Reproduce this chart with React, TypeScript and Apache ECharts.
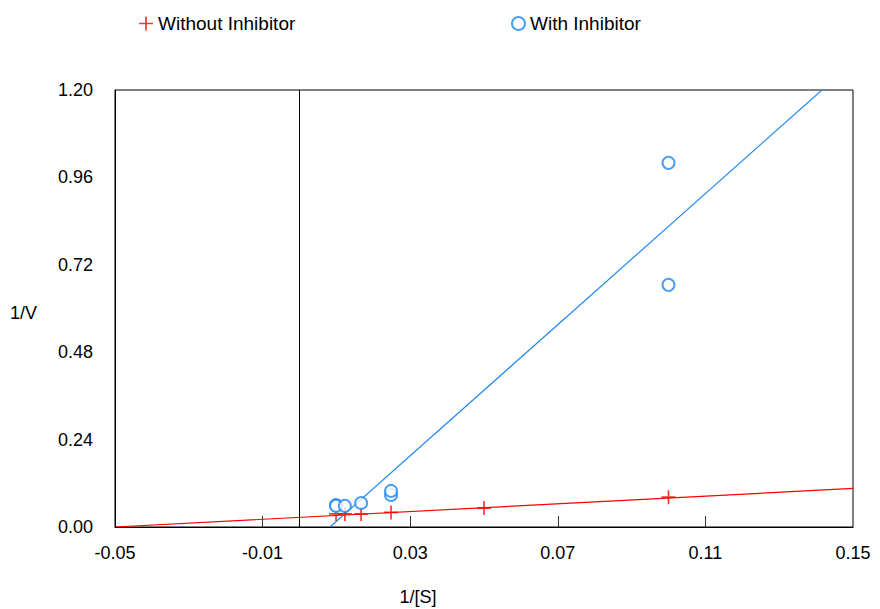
import React, { useEffect, useRef } from "react";
import * as echarts from "echarts";

const withoutInhibitor: [number, number][] = [
  [0.0099, 0.036],
  [0.0123, 0.036],
  [0.0167, 0.036],
  [0.0248, 0.040],
  [0.05, 0.052],
  [0.1, 0.082],
];
const withInhibitor: [number, number][] = [
  [0.0099, 0.06],
  [0.0099, 0.058],
  [0.0123, 0.058],
  [0.0167, 0.066],
  [0.0248, 0.088],
  [0.0248, 0.099],
  [0.1, 0.665],
  [0.1, 1.0],
];
const fitWithout: [number, number][] = [
  [-0.05, 0],
  [0.15, 0.106],
];
const fitWith: [number, number][] = [
  [0.00827, 0],
  [0.15, 1.2756],
];
const xLabelValues = [-0.05, -0.01, 0.03, 0.07, 0.11, 0.15];
const xTickValues = [-0.01, 0.03, 0.07, 0.11];

const RED = "#ff0000";
const BLUE = "#1e88f0";
const PLUS = "path://M4.4,0 H5.6 V4.4 H10 V5.6 H5.6 V10 H4.4 V5.6 H0 V4.4 H4.4 Z";
const FONT = "Liberation Sans";
const LS = 3.5;

export default function App() {
  const ref = useRef<HTMLDivElement>(null);
  useEffect(() => {
    const chart = echarts.init(ref.current!, null, { renderer: "svg" });
    chart.setOption({
      animation: false,
      backgroundColor: "#fff",
      textStyle: { fontFamily: FONT },
      legend: [
        {
          data: [{ name: "Without Inhibitor", icon: PLUS }],
          left: 134,
          top: 9,
          itemWidth: 14,
          itemHeight: 14,
          itemGap: 4,
          textStyle: { fontSize: 19, color: "#000", fontFamily: FONT, letterSpacing: LS },
        },
        {
          data: [{ name: "With Inhibitor", icon: "emptyCircle" }],
          left: 506,
          top: 9,
          itemWidth: 13,
          itemHeight: 13,
          itemGap: 2,
          textStyle: { fontSize: 19, color: "#000", fontFamily: FONT, letterSpacing: LS },
        },
      ],
      grid: {
        left: 115,
        right: 27,
        top: 90,
        bottom: 82,
        show: true,
        borderColor: "#000",
        borderWidth: 1,
      },
      xAxis: {
        type: "value",
        min: -0.05,
        max: 0.15,
        splitLine: { show: false },
        axisLine: { lineStyle: { color: "#000", width: 1 } },
        axisTick: {
          show: true,
          inside: true,
          length: 11,
          customValues: xTickValues,
          lineStyle: { color: "#333" },
        },
        axisLabel: {
          customValues: xLabelValues,
          formatter: (v: number) => v.toFixed(2),
          fontSize: 18,
          color: "#000",
          margin: 17,
          fontFamily: FONT,
          letterSpacing: LS,
        },
      },
      yAxis: {
        type: "value",
        min: 0,
        max: 1.2,
        interval: 0.24,
        splitLine: { show: false },
        axisLine: { show: true, onZero: false, lineStyle: { color: "#000" } },
        axisTick: { show: false },
        axisLabel: {
          formatter: (v: number) => v.toFixed(2),
          fontSize: 18,
          color: "#000",
          margin: 22,
          fontFamily: FONT,
          letterSpacing: LS,
        },
      },
      graphic: [
        {
          type: "text",
          left: 10,
          top: 304,
          style: { text: "1/V", fontSize: 18, fill: "#000", fontFamily: FONT, letterSpacing: LS },
        },
        {
          type: "text",
          x: 418,
          y: 597,
          style: {
            text: "1/[S]",
            fontSize: 18,
            fill: "#000",
            fontFamily: FONT,
            letterSpacing: LS,
            textAlign: "center",
            textVerticalAlign: "middle",
          },
        },
      ],
      series: [
        {
          name: "Without Inhibitor",
          type: "scatter",
          data: withoutInhibitor,
          symbol: PLUS,
          symbolSize: 14,
          itemStyle: { color: RED },
          z: 4,
          markLine: {
            silent: true,
            symbol: "none",
            label: { show: false },
            lineStyle: { color: "#000", type: "solid", width: 1 },
            data: [{ xAxis: 0 }],
          },
        },
        {
          name: "With Inhibitor",
          type: "scatter",
          data: withInhibitor,
          symbol: "emptyCircle",
          symbolSize: 12,
          itemStyle: { color: BLUE, borderWidth: 1.3 },
          z: 5,
        },
        {
          name: "fitWithout",
          type: "line",
          data: fitWithout,
          symbol: "none",
          clip: true,
          lineStyle: { color: RED, width: 1.2 },
          z: 3,
        },
        {
          name: "fitWith",
          type: "line",
          data: fitWith,
          symbol: "none",
          clip: true,
          lineStyle: { color: BLUE, width: 1.2 },
          z: 3,
        },
      ],
    });
    return () => chart.dispose();
  }, []);
  return <div ref={ref} style={{ width: 880, height: 609, position: "absolute", left: 0, top: 0 }} />;
}
